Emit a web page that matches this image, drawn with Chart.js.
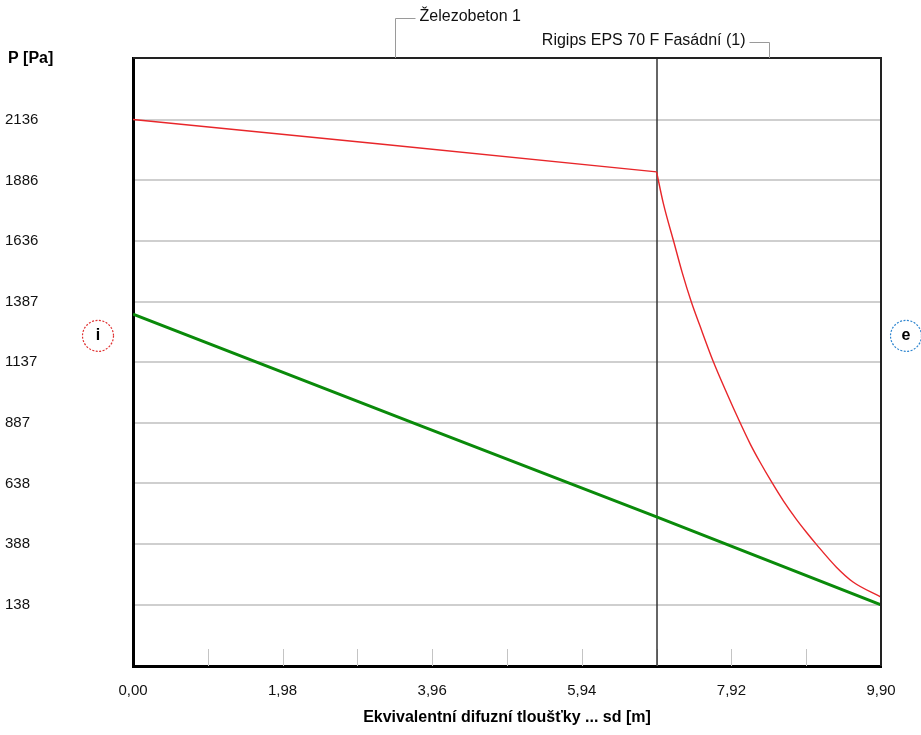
<!DOCTYPE html>
<html>
<head>
<meta charset="utf-8">
<script src="https://cdn.jsdelivr.net/npm/chart.js@4/dist/chart.umd.min.js"></script>
<style>
  html, body { margin: 0; padding: 0; background: #fff; }
</style>
</head>
<body>
<canvas id="chart" width="921" height="735"></canvas>
<script>
// partial pressure of water vapour
const redX = [0, 3.27, 6.93, 7.02, 7.16, 7.27, 7.39, 7.50, 7.68, 7.88, 8.01, 8.17, 8.30, 8.45, 8.61, 8.78, 8.91, 9.05, 9.31, 9.53, 9.90];
const redP = [2137, 2036, 1921, 1790, 1630, 1505, 1385, 1290, 1140, 995, 905, 800, 725, 645, 565, 490, 438, 385, 293, 232, 170];
const greenX = [0, 3.75, 6.93, 9.90];
const greenP = [1335, 882, 500, 138];

const layerEdges = [0, 6.93, 9.90];
const layerNames = ['Železobeton 1', 'Rigips EPS 70 F Fasádní (1)'];

const yTicks = [138, 388, 638, 887, 1137, 1387, 1636, 1886, 2136];
const yTickLabels = ['138', '388', '638', '887', '1137', '1387', '1636', '1886', '2136'];
const xTicks = [0, 1.98, 3.96, 5.94, 7.92, 9.90];
const xTickLabels = ['0,00', '1,98', '3,96', '5,94', '7,92', '9,90'];
const xMinorTicks = [0.99, 2.97, 4.95, 6.93, 8.91];

const FONT = "'Liberation Sans', Arial, sans-serif";

const toPts = (xs, ys) => xs.map((v, i) => ({ x: v, y: ys[i] }));
const split = redX.indexOf(layerEdges[1]);

const decor = {
    id: 'decor',
    beforeDatasetsDraw(chart) {
        const { ctx, chartArea: a, scales: { x } } = chart;
        ctx.save();
        // small ticks along the bottom
        ctx.strokeStyle = '#c4c4c4';
        ctx.lineWidth = 1;
        xTicks.slice(1, -1).concat(xMinorTicks).forEach(v => {
            const px = Math.round(x.getPixelForValue(v)) + 0.5;
            ctx.beginPath();
            ctx.moveTo(px, a.bottom);
            ctx.lineTo(px, a.bottom - 17);
            ctx.stroke();
        });
        // layer boundary
        ctx.strokeStyle = '#333';
        ctx.lineWidth = 1.5;
        layerEdges.slice(1, -1).forEach(v => {
            const px = Math.round(x.getPixelForValue(v));
            ctx.beginPath();
            ctx.moveTo(px, a.top);
            ctx.lineTo(px, a.bottom);
            ctx.stroke();
        });
        ctx.restore();
    },
    afterDraw(chart) {
        const { ctx, chartArea: a, scales: { x } } = chart;
        ctx.save();
        // top and right frame
        ctx.strokeStyle = '#222';
        ctx.lineWidth = 2;
        ctx.beginPath();
        ctx.moveTo(a.left, a.top);
        ctx.lineTo(a.right, a.top);
        ctx.lineTo(a.right, a.bottom);
        ctx.stroke();

        // y axis title
        ctx.fillStyle = '#000';
        ctx.font = 'bold 16px ' + FONT;
        ctx.textBaseline = 'middle';
        ctx.textAlign = 'left';
        ctx.fillText('P [Pa]', 8, a.top + 1);

        // layer labels
        ctx.font = '16px ' + FONT;
        ctx.strokeStyle = '#9a9a9a';
        ctx.lineWidth = 1;
        const c1 = Math.round((x.getPixelForValue(layerEdges[0]) + x.getPixelForValue(layerEdges[1])) / 2) + 0.5;
        ctx.beginPath();
        ctx.moveTo(c1, a.top);
        ctx.lineTo(c1, 18.5);
        ctx.lineTo(c1 + 20, 18.5);
        ctx.stroke();
        ctx.fillStyle = '#111';
        ctx.fillText(layerNames[0], c1 + 24, 17);

        const c2 = Math.round((x.getPixelForValue(layerEdges[1]) + x.getPixelForValue(layerEdges[2])) / 2) + 0.5;
        ctx.beginPath();
        ctx.moveTo(c2, a.top);
        ctx.lineTo(c2, 42.5);
        ctx.lineTo(c2 - 20, 42.5);
        ctx.stroke();
        ctx.textAlign = 'right';
        ctx.fillText(layerNames[1], c2 - 24, 41);

        // interior / exterior markers
        const cy = a.top + (a.bottom - a.top) * 0.457;
        const marks = [
            { x: 98, t: 'i', c: '#e03232' },
            { x: 906, t: 'e', c: '#2f86d0' }
        ];
        marks.forEach(m => {
            ctx.beginPath();
            ctx.setLineDash([2, 1.5]);
            ctx.strokeStyle = m.c;
            ctx.lineWidth = 1.2;
            ctx.arc(m.x, cy, 15.5, 0, Math.PI * 2);
            ctx.stroke();
            ctx.setLineDash([]);
            ctx.fillStyle = '#000';
            ctx.font = 'bold 16px ' + FONT;
            ctx.textAlign = 'center';
            ctx.fillText(m.t, m.x, cy);
        });
        ctx.restore();
    }
};

new Chart(document.getElementById('chart').getContext('2d'), {
    type: 'line',
    data: {
        datasets: [
            {
                label: 'p,sat 1',
                data: toPts(redX.slice(0, split + 1), redP.slice(0, split + 1)),
                borderColor: '#e8262a',
                borderWidth: 1.4,
                pointRadius: 0,
                tension: 0
            },
            {
                label: 'p,sat 2',
                data: toPts(redX.slice(split), redP.slice(split)),
                borderColor: '#e8262a',
                borderWidth: 1.4,
                pointRadius: 0,
                cubicInterpolationMode: 'monotone'
            },
            {
                label: 'p',
                data: toPts(greenX, greenP),
                borderColor: '#0a8a0a',
                borderWidth: 3,
                pointRadius: 0,
                tension: 0
            }
        ]
    },
    options: {
        responsive: false,
        animation: false,
        layout: { padding: { left: 5, right: 40, top: 58, bottom: 0 } },
        plugins: { legend: { display: false }, tooltip: { enabled: false } },
        scales: {
            x: {
                type: 'linear',
                min: 0,
                max: 9.9,
                afterBuildTicks: s => { s.ticks = xTicks.map(v => ({ value: v })); },
                afterFit: s => { s.height = 69; },
                ticks: {
                    padding: 16,
                    color: '#111',
                    font: { family: FONT, size: 15 },
                    maxRotation: 0,
                    callback: (v, i) => xTickLabels[i]
                },
                grid: { drawOnChartArea: false, drawTicks: false },
                border: { display: true, color: '#000', width: 3 },
                title: {
                    display: true,
                    text: 'Ekvivalentní difuzní tloušťky ... sd [m]',
                    color: '#000',
                    font: { family: FONT, size: 16, weight: 'bold' },
                    padding: { top: 0, bottom: 8 }
                }
            },
            y: {
                type: 'linear',
                min: -114,
                max: 2390,
                afterBuildTicks: s => { s.ticks = yTicks.map(v => ({ value: v })); },
                afterFit: s => { s.width = 128; },
                ticks: {
                    crossAlign: 'far',
                    color: '#111',
                    font: { family: FONT, size: 15 },
                    callback: (v, i) => yTickLabels[i]
                },
                grid: { color: '#cfcfcf', lineWidth: 2, drawTicks: false },
                border: { display: true, color: '#000', width: 3 }
            }
        }
    },
    plugins: [decor]
});
</script>
</body>
</html>
